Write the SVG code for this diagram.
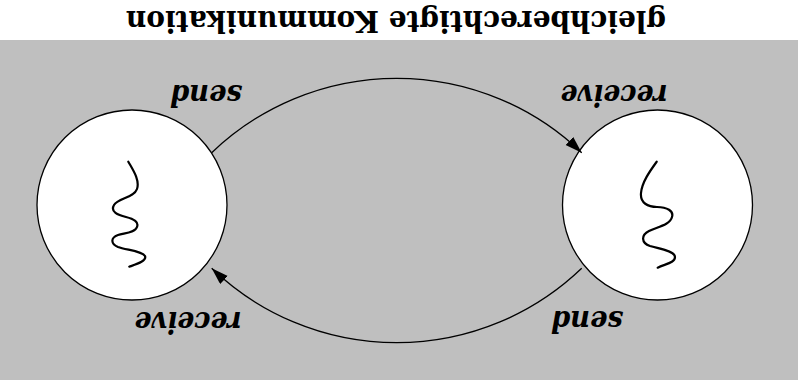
<svg xmlns="http://www.w3.org/2000/svg" width="798" height="383" viewBox="0 0 798 383">
  <style>
    .bg { fill: #bfbfbf; }
    .node { fill: #ffffff; stroke: #000000; stroke-width: 1.3; }
    .squiggle { fill: none; stroke: #000000; stroke-width: 2.2; stroke-linecap: round; }
    .conn { fill: none; stroke: #000000; stroke-width: 1.3; }
    .title { font-family: "DejaVu Serif", "Liberation Serif", serif; font-weight: bold; font-size: 30px; fill: #000; }
    .lbl { font-family: "DejaVu Serif", "Liberation Serif", serif; font-weight: bold; font-style: italic; font-size: 30px; fill: #000; }
  </style>
  <defs>
    <marker id="arrow" markerUnits="userSpaceOnUse" markerWidth="18" markerHeight="12" refX="17" refY="5.5" orient="auto">
      <path d="M0,0 L17,5.5 L0,11 z" fill="#000"/>
    </marker>
  </defs>
  <rect class="bg" x="0" y="40" width="798" height="340"/>
  <text class="title" x="396" y="11" text-anchor="middle" textLength="540" lengthAdjust="spacingAndGlyphs" transform="rotate(180 396 11)">gleichberechtigte Kommunikation</text>
  <g id="node-left">
    <circle class="node" cx="132" cy="205" r="95"/>
    <path class="squiggle" d="M128.3,161.7 C133,170 140,180 137,189 C134,198 118,198 114,205 C110,212 118,215 126,217 C134,219 139,222 137,227 C135,233 124,233 118,235 C110,238 111,244 118,247 C126,250 142,251 145,256 C147,261 137,264 129.3,266.7"/>
  </g>
  <g id="node-right">
    <circle class="node" cx="657.5" cy="205" r="95"/>
    <path class="squiggle" d="M656.7,161.7 C650,171 642,182 641,193 C640,203 648,207 657,207 C667,207 674,211 672,217 C670,225 657,227 649,231 C641,235 641,243 650,246 C660,249 675,251 675,257 C675,263 665,264 657.7,267.7"/>
  </g>
  <g id="connectors">
    <path class="conn" d="M211.7,152.7 A267.2,267.2 0 0 1 581.7,152.7" marker-end="url(#arrow)"/>
    <path class="conn" d="M581.7,268.3 A267.2,267.2 0 0 1 211.7,268.3" marker-end="url(#arrow)"/>
  </g>
  <g id="labels">
    <text class="lbl" x="206" y="85" text-anchor="middle" textLength="72" lengthAdjust="spacingAndGlyphs" transform="rotate(180 206 85)">send</text>
    <text class="lbl" x="614" y="85" text-anchor="middle" textLength="107" lengthAdjust="spacingAndGlyphs" transform="rotate(180 614 85)">receive</text>
    <text class="lbl" x="188" y="311.5" text-anchor="middle" textLength="107" lengthAdjust="spacingAndGlyphs" transform="rotate(180 188 311.5)">receive</text>
    <text class="lbl" x="587" y="311" text-anchor="middle" textLength="72" lengthAdjust="spacingAndGlyphs" transform="rotate(180 587 311)">send</text>
  </g>
</svg>
